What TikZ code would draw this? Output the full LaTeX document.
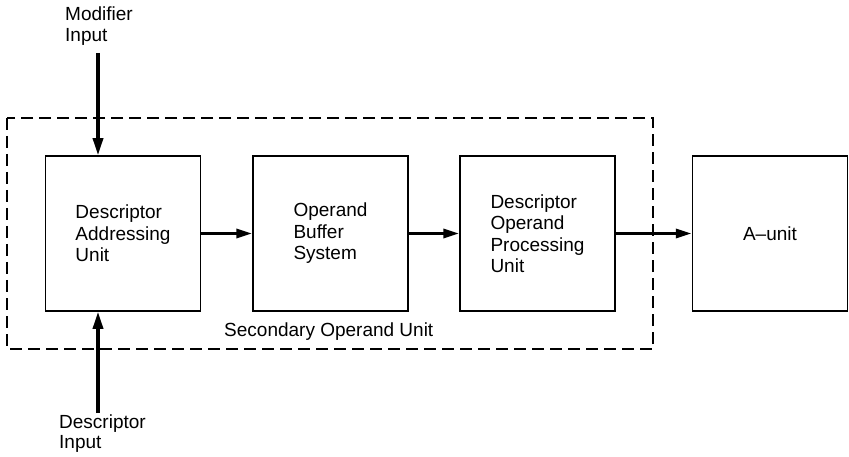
\documentclass[tikz,border=0pt]{standalone}
\usepackage{fontspec}
\setmainfont{Liberation Sans}
\usetikzlibrary{arrows.meta}
\begin{document}
\begin{tikzpicture}[x=1pt,y=-1pt,
  unitbox/.style={draw,line width=1.5pt,minimum width=155pt,minimum height=155pt,
    inner sep=0pt,align=left,font=\fontsize{19}{21.5}\selectfont},
  lbl/.style={align=left,inner sep=0pt,font=\fontsize{19}{20.5}\selectfont},
  flow/.style={line width=3.2pt,-{Triangle[length=16pt,width=9pt]}},
  feed/.style={line width=3.2pt,-{Triangle[length=17pt,width=10pt]}},
  groupline/.style={line width=1.3pt,dash pattern=on 12pt off 6pt}]
\useasboundingbox (0,0) rectangle (849,457);

% enclosing group
\draw[groupline] (7,118) rectangle (653,349);
\node[lbl,anchor=west] (grp) at (224,332) {Secondary Operand Unit};

% processing units
\node[unitbox] (dau) at (123,233.5) {Descriptor\\Addressing\\Unit};
\node[unitbox] (obs) at (330.5,233.5) {Operand\\Buffer\\System};
\node[unitbox] (dop) at (537.5,233.5) {Descriptor\\Operand\\Processing\\Unit};
\node[unitbox] (au) at (770,233.5) {A--unit};

% data flow between units
\draw[flow] (dau) -- (obs);
\draw[flow] (obs) -- (dop);
\draw[flow] (dop) -- (au);

% external inputs
\node[lbl,anchor=north west] (modin) at (65,7) {Modifier\\Input};
\coordinate (modtop) at (98,53);
\draw[feed] (modtop) -- (modtop |- dau.north);

\node[lbl,anchor=south west] (desin) at (59,453) {Descriptor\\Input};
\coordinate (desbot) at (98,413);
\draw[feed] (desbot) -- (desbot |- dau.south);
\end{tikzpicture}
\end{document}
